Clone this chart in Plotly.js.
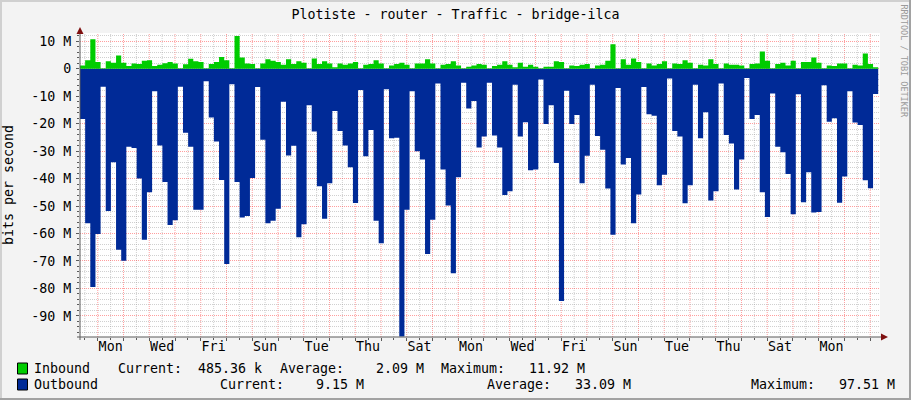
<!DOCTYPE html>
<html>
<head>
<meta charset="utf-8">
<script src="https://cdn.plot.ly/plotly-3.0.1.min.js"></script>
<style>
  html, body { margin: 0; padding: 0; background: #f3f3f3; }
  #chart { width: 911px; height: 400px; }
</style>
</head>
<body>
<div id="chart"></div>
<script>
// one sample every 0.2 day (4.8 h), values in Mbit/s
const stepDays = 0.2;
const spanDays = 31.07;

const inbound = [
  1.2, 3.1, 10.7, 2.4, 0.2, 2.7, 2.2, 4.8, 2.2, 1.0, 1.9, 1.7, 2.9, 3.1, 1.0, 1.4, 2.0, 2.4, 1.9, 0.2,
  1.6, 3.6, 2.7, 2.4, 0.2, 1.7, 2.4, 4.3, 3.1, 0.2, 11.9, 4.1, 1.9, 1.7, 0.2, 1.9, 3.4, 2.9, 2.4, 1.4,
  3.4, 1.7, 2.7, 2.2, 0.2, 3.7, 1.7, 2.7, 1.9, 0.5, 1.9, 1.4, 1.9, 2.4, 0.2, 1.4, 1.7, 3.1, 1.9, 0.2,
  1.2, 1.7, 2.2, 1.4, 0.2, 1.9, 1.9, 3.4, 1.9, 0.2, 1.4, 1.7, 2.7, 1.2, 0.2, 0.7, 1.2, 1.7, 1.4,
  0.2, 1.0, 1.4, 2.7, 1.4, 0.5, 2.2, 0.7, 1.4, 0.7, 0.2, 0.7, 0.7, 2.7, 2.4, 0.2, 1.2, 1.0, 1.4, 1.7,
  0.2, 1.2, 1.4, 2.9, 8.9, 0.2, 3.4, 1.4, 3.7, 2.4, 0.2, 1.9, 1.2, 1.7, 2.7, 0.2, 1.9, 1.7, 3.1,
  2.2, 0.2, 1.4, 1.2, 3.4, 1.7, 0.2, 1.9, 1.4, 1.4, 1.2, 0.2, 1.7, 1.9, 6.3, 2.9, 0.2, 1.7, 2.2, 1.2,
  2.9, 0.2, 2.4, 2.4, 4.1, 2.2, 0.2, 1.2, 1.0, 1.9, 1.9, 0.2, 1.4, 1.2, 5.5, 1.7, 0.5
];

const outbound = [
  18.3, 56.3, 79.5, 60.2, 6.6, 51.8, 34.1, 65.9, 69.9, 28.4, 28.9, 40.0, 62.3, 45.0, 8.2, 28.0, 41.3, 56.9, 55.2, 6.6,
  23.3, 28.4, 51.4, 51.4, 4.6, 17.8, 26.5, 40.5, 71.1, 5.7, 41.3, 54.2, 53.6, 39.8, 6.7, 25.9, 56.3, 55.4, 51.0, 12.0,
  31.6, 28.1, 61.4, 56.6, 13.3, 22.9, 42.8, 54.6, 41.7, 15.4, 22.7, 28.0, 35.9, 48.9, 7.8, 31.9, 22.3, 55.4, 63.6, 7.5,
  25.3, 25.1, 97.5, 51.4, 8.2, 30.1, 33.1, 67.5, 55.0, 5.4, 36.7, 49.8, 74.5, 39.5, 5.1, 14.5, 11.8, 28.7, 24.7,
  5.1, 24.3, 28.7, 46.0, 44.6, 5.8, 24.7, 19.5, 37.0, 36.7, 3.9, 20.1, 13.3, 34.3, 84.6, 8.0, 20.1, 16.9, 41.7, 31.7,
  5.8, 24.5, 29.5, 43.6, 60.5, 7.0, 34.9, 32.5, 56.3, 45.8, 6.7, 16.6, 17.1, 42.4, 38.6, 3.6, 22.7, 24.7, 49.0,
  42.4, 5.8, 25.3, 15.9, 48.0, 44.6, 5.4, 24.1, 27.2, 44.0, 33.1, 3.4, 18.3, 16.9, 45.0, 54.0, 9.0, 28.4, 30.4, 38.3,
  53.0, 9.3, 48.6, 37.7, 52.4, 52.2, 6.0, 19.3, 18.0, 48.8, 39.3, 8.2, 19.6, 20.5, 40.6, 43.5, 9.2
];

const dayLabels = ['Mon', 'Wed', 'Fri', 'Sun', 'Tue', 'Thu', 'Sat', 'Mon', 'Wed', 'Fri', 'Sun', 'Tue', 'Thu', 'Sat', 'Mon'];
const firstLabelDay = 1.19;
const yTicks = [10, 0, -10, -20, -30, -40, -50, -60, -70, -80, -90];
const yTickText = ['10 M', '0', '-10 M', '-20 M', '-30 M', '-40 M', '-50 M', '-60 M', '-70 M', '-80 M', '-90 M'];
const yRange = [-97.7, 13];

const legendRows = [
  { name: 'Inbound', color: '#00cc00', current: ['Current:  485.36 k', 116.7], average: ['Average:    2.09 M', 279], maximum: ['Maximum:   11.92 M', 440.4] },
  { name: 'Outbound', color: '#002a97', current: ['Current:    9.15 M', 219.3], average: ['Average:   33.09 M', 485.6], maximum: ['Maximum:   97.51 M', 749.6] }
];

const FONT = 'DejaVu Sans Mono, monospace';
const W = 911, H = 400, L = 80, R = 31, T = 33, B = 63;
const PW = W - L - R, PH = H - T - B;
const px = x => (x - L) / PW;
const py = y => (H - B - y) / PH;
const nb = s => s.replace(/ /g, '\u00a0');

// step x positions, plus one closing point so the last step gets its width
const steps = v => v.map((_, i) => i * stepDays).concat([v.length * stepDays]);
const closeRun = v => v.concat([v[v.length - 1]]);

// grid positions: red line once a day, grey line half a day later, grey every 2 M
const redDays = [], greyDays = [];
for (let d = firstLabelDay - 0.5; d < spanDays; d += 1) redDays.push(d);
for (let d = firstLabelDay - 1; d < spanDays; d += 1) if (d > 0) greyDays.push(d);
const greyM = [];
for (let m = 12; m >= -96; m -= 2) if (m % 10 !== 0) greyM.push(m);

const traces = [
  {
    x: steps(outbound), y: closeRun(outbound.map(v => -v)),
    type: 'scatter', mode: 'lines', fill: 'tozeroy',
    line: { shape: 'hv', width: 0, color: '#002a97' }, fillcolor: '#002a97',
    hoverinfo: 'skip'
  },
  {
    x: steps(inbound), y: closeRun(inbound),
    type: 'scatter', mode: 'lines', fill: 'tozeroy',
    line: { shape: 'hv', width: 0, color: '#00cc00' }, fillcolor: '#00cc00',
    hoverinfo: 'skip'
  },
  // empty traces so the overlay axes get drawn
  { x: [], y: [], xaxis: 'x2', yaxis: 'y', type: 'scatter', hoverinfo: 'skip' },
  { x: [], y: [], xaxis: 'x3', yaxis: 'y', type: 'scatter', hoverinfo: 'skip' },
  { x: [], y: [], xaxis: 'x', yaxis: 'y2', type: 'scatter', hoverinfo: 'skip' }
];

const redGrid = 'rgba(255,0,0,0.38)';
const greyGrid = 'rgba(150,150,150,0.45)';
const gridDash = '1px,1px';

const shapes = [];

// vertical grid, kept under the areas
redDays.forEach(d => shapes.push({
  type: 'line', layer: 'below', xref: 'x', yref: 'paper', x0: d, x1: d, y0: 0, y1: 1,
  line: { color: redGrid, width: 1, dash: gridDash }
}));
greyDays.forEach(d => shapes.push({
  type: 'line', layer: 'below', xref: 'x', yref: 'paper', x0: d, x1: d, y0: 0, y1: 1,
  line: { color: greyGrid, width: 1, dash: gridDash }
}));

shapes.push(
  // axis lines with arrows
  { type: 'line', xref: 'paper', yref: 'paper', x0: px(80), x1: px(80), y0: py(340), y1: py(30), line: { color: '#5a5a5a', width: 1 } },
  { type: 'line', xref: 'paper', yref: 'paper', x0: px(77), x1: px(884), y0: py(337), y1: py(337), line: { color: '#5a5a5a', width: 1 } },
  { type: 'path', xref: 'paper', yref: 'paper', path: `M ${px(80)} ${py(27)} L ${px(76.5)} ${py(34)} L ${px(83.5)} ${py(34)} Z`, fillcolor: '#7f1010', line: { width: 0 } },
  { type: 'path', xref: 'paper', yref: 'paper', path: `M ${px(888)} ${py(337)} L ${px(881)} ${py(333.5)} L ${px(881)} ${py(340.5)} Z`, fillcolor: '#7f1010', line: { width: 0 } },
  // frame
  { type: 'line', xref: 'paper', yref: 'paper', x0: px(0), x1: px(911), y0: py(1), y1: py(1), line: { color: '#d0d0d0', width: 2 } },
  { type: 'line', xref: 'paper', yref: 'paper', x0: px(1), x1: px(1), y0: py(0), y1: py(400), line: { color: '#d0d0d0', width: 2 } },
  { type: 'line', xref: 'paper', yref: 'paper', x0: px(910), x1: px(910), y0: py(0), y1: py(400), line: { color: '#a2a2a2', width: 2 } },
  { type: 'line', xref: 'paper', yref: 'paper', x0: px(0), x1: px(911), y0: py(399), y1: py(399), line: { color: '#a2a2a2', width: 2 } }
);

const annotations = [
  {
    xref: 'paper', yref: 'paper', x: px(903.5), y: py(61), text: 'RRDTOOL / TOBI OETIKER',
    xanchor: 'center', yanchor: 'middle', borderpad: 0,
    textangle: 90, showarrow: false, font: { family: FONT, size: 8.5, color: '#9a9a9a' }
  }
];

legendRows.forEach((row, i) => {
  const yc = 368.5 + i * 16;
  shapes.push({
    type: 'rect', xref: 'paper', yref: 'paper',
    x0: px(17.5), x1: px(27.5), y0: py(yc - 5.5), y1: py(yc + 5.5),
    fillcolor: row.color, line: { color: '#000', width: 1 }
  });
  [[row.name, 33], row.current, row.average, row.maximum].forEach(([txt, x]) => {
    annotations.push({
      xref: 'paper', yref: 'paper', x: px(x - 1), y: py(yc), text: nb(txt),
      xanchor: 'left', yanchor: 'middle', showarrow: false,
      font: { family: FONT, size: 13.3, color: '#000' }
    });
  });
});

const tickFont = { family: FONT, size: 13.3, color: '#000' };

const layout = {
  width: W, height: H,
  paper_bgcolor: '#f3f3f3', plot_bgcolor: '#ffffff',
  margin: { l: L, r: R, t: T, b: B },
  showlegend: false,
  font: { family: FONT, size: 13.3, color: '#000' },
  title: {
    text: 'Plotiste - router - Traffic - bridge-ilca',
    x: 0.5, xref: 'container', y: 1 - 14 / H, yref: 'container', yanchor: 'middle',
    font: { family: FONT, size: 13.3, color: '#000' }
  },
  // grey half-day ticks
  xaxis: {
    range: [0, spanDays], tickmode: 'array', tickvals: greyDays,
    showticklabels: false, showgrid: false,
    ticks: 'outside', ticklen: 2, tickcolor: '#5a5a5a', showline: false, zeroline: false
  },
  // red daily ticks
  xaxis2: {
    overlaying: 'x', anchor: 'y', side: 'bottom', range: [0, spanDays],
    tickmode: 'array', tickvals: redDays,
    showticklabels: false, showgrid: false,
    ticks: 'outside', ticklen: 3, tickcolor: '#5a5a5a', showline: false, zeroline: false
  },
  // day names
  xaxis3: {
    overlaying: 'x', anchor: 'y', side: 'bottom', range: [0, spanDays],
    tickmode: 'array', tickvals: dayLabels.map((_, i) => firstLabelDay + 2 * i), ticktext: dayLabels,
    showgrid: false, ticks: '', showline: false, zeroline: false, ticklabelstandoff: 0,
    tickfont: tickFont
  },
  yaxis: {
    range: yRange, tickmode: 'array', tickvals: yTicks, ticktext: yTickText,
    showgrid: true, gridcolor: redGrid, griddash: gridDash,
    ticks: 'outside', ticklen: 3, tickcolor: '#5a5a5a', showline: false, zeroline: false,
    ticklabelstandoff: 2, tickfont: tickFont,
    title: { text: 'bits per second', standoff: 14, font: tickFont }
  },
  yaxis2: {
    overlaying: 'y', anchor: 'x', side: 'left', range: yRange,
    tickmode: 'array', tickvals: greyM, showticklabels: false,
    showgrid: true, gridcolor: greyGrid, griddash: gridDash,
    ticks: 'outside', ticklen: 2, tickcolor: '#5a5a5a', showline: false, zeroline: false
  },
  shapes: shapes,
  annotations: annotations
};

Plotly.newPlot('chart', traces, layout, { staticPlot: true, displayModeBar: false });
</script>
</body>
</html>
